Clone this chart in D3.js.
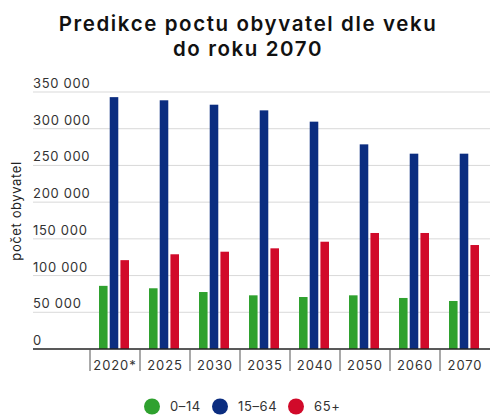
<!DOCTYPE html>
<html><head><meta charset="utf-8">
<script src="https://cdn.jsdelivr.net/npm/d3@7"></script>
<style>body{margin:0;background:#fff}svg{display:block}</style>
</head><body>
<svg id="c" width="490" height="416"></svg>
<script>
const categories = ["2020*","2025","2030","2035","2040","2050","2060","2070"];
const seriesNames = ["0–14","15–64","65+"];
const age0_14 = [86000,82700,77600,73100,70800,73100,69500,65400];
const age15_64 = [343000,338700,332700,325000,309600,278700,266000,266000];
const age65 = [121000,129000,132500,137100,146100,158000,158000,141600];
const yTicks = [0,50000,100000,150000,200000,250000,300000,350000];
const colors = ["#2fa12f","#0b2d80","#d10a2a"];
const series = [age0_14, age15_64, age65];

const svg = d3.select("#c");
const font = "Inter, 'Open Sans', sans-serif";
const left = 33, right = 490, x0 = 90, y0 = 349, yTop = 92;

const x = d3.scaleBand().domain(categories).range([x0, 490]).paddingInner(0).paddingOuter(0);
const y = d3.scaleLinear().domain([0, 350000]).range([y0, yTop]);
const xs = d3.scaleBand().domain(d3.range(3)).range([9, 39]).paddingInner(0.2);

// title
const title = svg.append("text").attr("text-anchor","middle")
  .attr("font-family", font).attr("font-weight", 600).attr("font-size", 20.5)
  .attr("letter-spacing", 1.6).attr("fill","#111");
title.append("tspan").attr("x",248).attr("y",31).text("Predikce poctu obyvatel dle veku");
title.append("tspan").attr("x",248).attr("y",56).text("do roku 2070");

// gridlines
svg.append("g").selectAll("line").data(yTicks.filter(d=>d>0)).join("line")
  .attr("x1", left).attr("x2", right).attr("y1", d=>y(d)).attr("y2", d=>y(d))
  .attr("stroke","#d9d9d9").attr("stroke-width",1);

// y labels
svg.append("g").selectAll("text").data(yTicks).join("text")
  .attr("x", left).attr("y", d=>y(d)-4)
  .attr("font-family", font).attr("font-size", 13).attr("letter-spacing", 0.7).attr("fill","#333")
  .text(d => d3.format(",")(d).replace(/,/g," "));

// y title
svg.append("text").attr("transform","translate(21,211) rotate(-90)")
  .attr("text-anchor","middle").attr("font-family", font).attr("font-size",13)
  .attr("letter-spacing", 0.6).attr("fill","#222")
  .text("počet obyvatel");

// bars
const g = svg.append("g");
categories.forEach((c,i)=>{
  series.forEach((s,j)=>{
    g.append("rect").attr("x", x(c)+xs(j)).attr("width", xs.bandwidth())
      .attr("y", y(s[i])).attr("height", y(0)-y(s[i])).attr("fill", colors[j]);
  });
});

// x axis
const xAxis = d3.axisBottom(x).tickSize(0).tickPadding(12);
const ax = svg.append("g").attr("transform",`translate(0,${y0})`).call(xAxis);
ax.select(".domain").remove();
ax.selectAll("text").attr("font-family", font).attr("font-size",13).attr("letter-spacing", 0.9).attr("fill","#333");
svg.append("line").attr("x1",left).attr("x2",right).attr("y1",y0).attr("y2",y0).attr("stroke","#222").attr("stroke-width",1.5);
svg.append("g").selectAll("line").data(categories).join("line")
  .attr("x1", d=>x(d)).attr("x2", d=>x(d)).attr("y1", y0).attr("y2", y0+22)
  .attr("stroke","#555").attr("stroke-width",1);

// legend
const legX = [152, 220, 296];
const lg = svg.append("g");
seriesNames.forEach((n,j)=>{
  lg.append("circle").attr("cx", legX[j]).attr("cy", 406.5).attr("r", 8).attr("fill", colors[j]);
  lg.append("text").attr("x", legX[j]+18).attr("y", 411).attr("font-family", font).attr("font-size",13)
    .attr("letter-spacing", 0.6).attr("fill","#333").text(n);
});
</script>
</body></html>
